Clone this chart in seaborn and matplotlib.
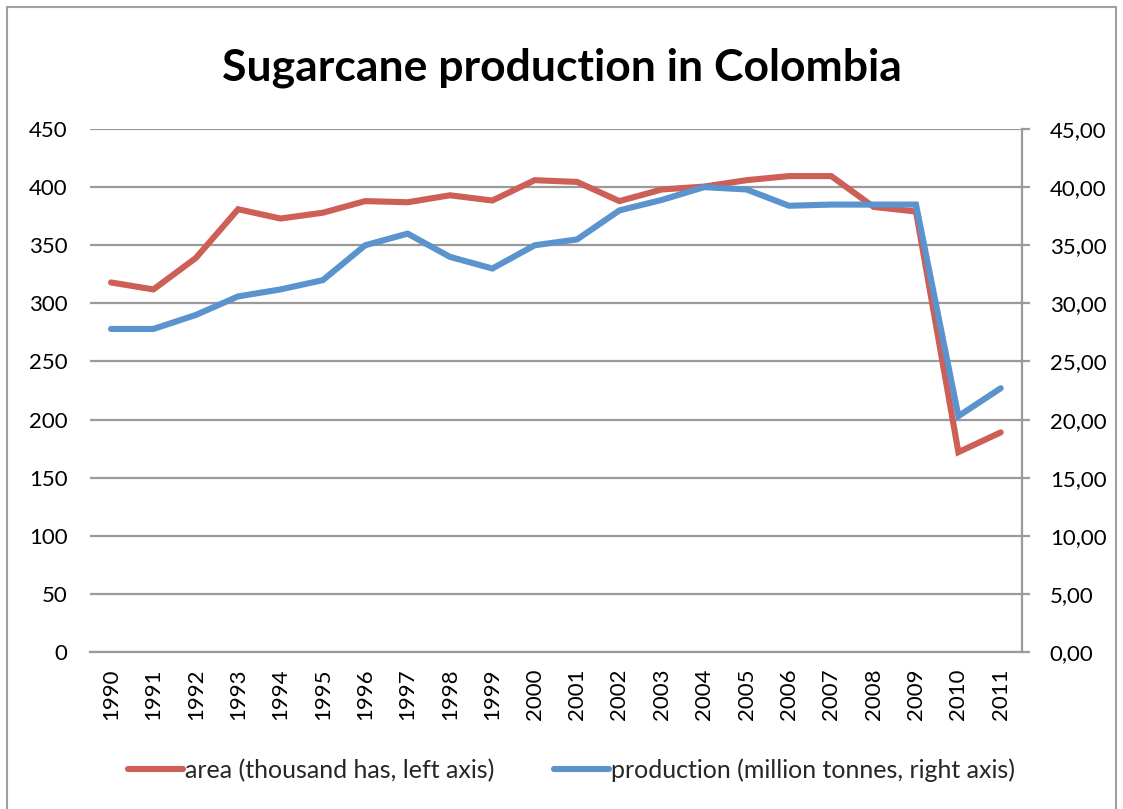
import matplotlib
matplotlib.use("Agg")
import matplotlib.pyplot as plt
import seaborn as sns
import pandas as pd
from matplotlib.patches import Rectangle
from matplotlib.ticker import FixedLocator, FuncFormatter

years = [str(y) for y in range(1990, 2012)]
area = [318, 312, 339, 381, 373, 378, 388, 387, 393, 388.5, 406, 404.5,
        388, 398, 400.5, 406, 409.5, 409.5, 383, 379, 172, 189]
production = [27.8, 27.8, 29.0, 30.6, 31.2, 32.0, 35.0, 36.0, 34.0, 33.0, 35.0, 35.5,
              38.0, 38.9, 40.0, 39.8, 38.4, 38.5, 38.5, 38.5, 20.3, 22.7]
left_ticks = [0, 50, 100, 150, 200, 250, 300, 350, 400, 450]
right_ticks = [0, 5, 10, 15, 20, 25, 30, 35, 40, 45]

title = "Sugarcane production in Colombia"
area_label = "area (thousand has, left axis)"
prod_label = "production (million tonnes, right axis)"

red = "#CD5F57"
blue = "#5A93CD"
grid_col = "#9A9A9A"

sns.set_theme(style="white")
plt.rcParams["font.family"] = ["Lato", "DejaVu Sans"]

df = pd.DataFrame({"year": years, "area": area, "production": production})
df["pos"] = range(len(years))

fig = plt.figure(figsize=(11.23, 8.09), dpi=100)
ax = fig.add_axes([0.080, 0.194, 0.830, 0.6465])
ax2 = ax.twinx()

sns.lineplot(data=df, x="pos", y="area", ax=ax, color=red, linewidth=4.4,
             solid_joinstyle="miter", legend=False)
sns.lineplot(data=df, x="pos", y="production", ax=ax2, color=blue, linewidth=4.4,
             solid_joinstyle="miter", legend=False)

ax.set_xlim(-0.5, len(years) - 0.5)
ax.set_ylim(0, 450)
ax2.set_ylim(0, 45)
ax.yaxis.set_major_locator(FixedLocator(left_ticks))
ax2.yaxis.set_major_locator(FixedLocator(right_ticks))
ax2.yaxis.set_major_formatter(FuncFormatter(lambda v, p: f"{v:.2f}".replace(".", ",")))
ax.set_xticks(df["pos"])
ax.set_xticklabels(years, rotation=90)

ax.grid(axis="y", color=grid_col, linewidth=1.6)
ax.set_axisbelow(True)
ax.set_xlabel("")
ax.set_ylabel("")
ax2.set_ylabel("")
ax2.set_xlabel("")

for a in (ax, ax2):
    for s in a.spines.values():
        s.set_visible(False)
ax2.spines["right"].set_visible(True)
ax2.spines["right"].set_color(grid_col)
ax2.spines["right"].set_linewidth(1.6)
ax2.spines["bottom"].set_visible(True)
ax2.spines["bottom"].set_color(grid_col)
ax2.spines["bottom"].set_linewidth(1.6)

ax.tick_params(axis="y", left=False, labelsize=16, pad=10, colors="black")
ax.tick_params(axis="x", bottom=False, labelsize=16, pad=6, colors="black")
ax2.tick_params(axis="y", right=True, length=6, width=1.6, color=grid_col,
                labelsize=16, pad=14, labelcolor="black")

fig.text(0.5, 1 - 68 / 809, title, ha="center", va="center",
         fontsize=32, fontweight="bold", color="black")

h1 = plt.Line2D([], [], color=red, linewidth=4.4)
h2 = plt.Line2D([], [], color=blue, linewidth=4.4)
fig.legend([h1, h2], [area_label, prod_label], loc="center",
           bbox_to_anchor=(0.509, 1 - 770 / 809), ncol=2, frameon=False,
           fontsize=18, handlelength=2.2, handletextpad=0.08, columnspacing=2.4)

fig.patches.append(Rectangle((7 / 1123, -0.02), 1109 / 1123, 1 - 7 / 809 + 0.02,
                             transform=fig.transFigure, fill=False,
                             edgecolor="#A0A0A0", linewidth=1.5))

fig.savefig("out.png", dpi=100)
